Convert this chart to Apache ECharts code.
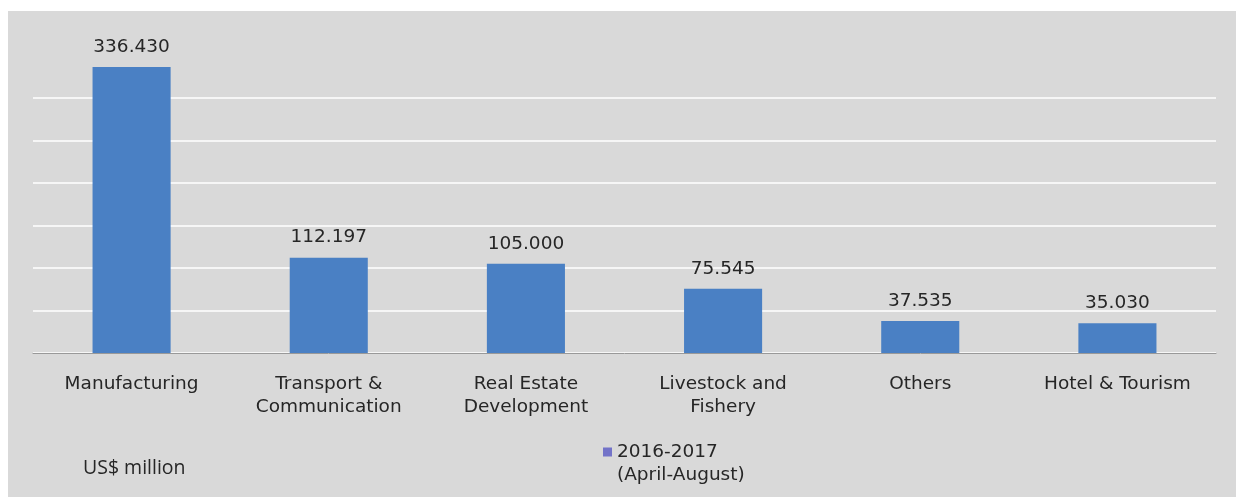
<!DOCTYPE html>
<html>
  <head>
    <meta charset="UTF-8">
    <title>Investment by sector</title>
    <script src="https://cdn.jsdelivr.net/npm/echarts@6/dist/echarts.min.js"></script>
    <style>
      html, body { margin: 0; padding: 0; background: #fff; }
      #chart { width: 1236px; height: 497px; }
    </style>
  </head>
  <body>
    <div id="chart"></div>
    <script>
// data (US$ million)
const categories = [
  'Manufacturing',
  'Transport &\nCommunication',
  'Real Estate\nDevelopment',
  'Livestock and\nFishery',
  'Others',
  'Hotel & Tourism'
];
const values = [336.430, 112.197, 105.000, 75.545, 37.535, 35.030];
const seriesName = '2016-2017\n(April-August)';
const unitLabel = 'US$ million';

const FONT = 'DejaVu Sans';
const TEXT = '#262626';

var chart = echarts.init(document.getElementById('chart'), null, {renderer: 'canvas'});

chart.setOption({
  backgroundColor: '#fff',
  animation: false,
  graphic: [
    {
      type: 'rect', z: -10, silent: true,
      shape: {x: 8, y: 11, width: 1228, height: 486},
      style: {fill: '#d9d9d9'}
    },
    {
      type: 'text', left: 83, top: 458,
      style: {text: unitLabel, fontFamily: 'Open Sans', fontSize: 19.5, fill: TEXT}
    }
  ],
  grid: {left: 33, right: 20, top: 55.5, bottom: 144, containLabel: false},
  legend: {
    left: 603, top: 417.5, padding: 0,
    itemWidth: 9, itemHeight: 9, itemGap: 10,
    icon: 'rect',
    data: [{name: seriesName, itemStyle: {color: '#7373c8'}}],
    // blank first line so the marker sits beside the first text line
    formatter: name => ' \n' + name,
    textStyle: {fontFamily: FONT, fontSize: 18.5, lineHeight: 23, color: TEXT}
  },
  xAxis: {
    type: 'category',
    data: categories,
    axisLine: {lineStyle: {color: '#999', width: 1}},
    axisTick: {show: false},
    axisLabel: {
      interval: 0, margin: 19.5,
      fontFamily: FONT, fontSize: 18.5, lineHeight: 23, color: TEXT
    }
  },
  yAxis: {
    type: 'value',
    min: 0, max: 350, interval: 50,
    axisLabel: {show: false},
    axisLine: {show: false},
    axisTick: {show: false},
    splitLine: {show: true, showMaxLine: false, lineStyle: {color: '#fff', width: 1.5}}
  },
  series: [{
    name: seriesName,
    type: 'bar',
    data: values,
    barWidth: '39.6%',
    itemStyle: {color: '#4a80c4'},
    label: {
      show: true, position: 'top', distance: 9,
      fontFamily: FONT, fontSize: 18.5, lineHeight: 22, color: TEXT,
      formatter: p => p.value.toFixed(3)
    }
  }]
});
    </script>
  </body>
</html>
